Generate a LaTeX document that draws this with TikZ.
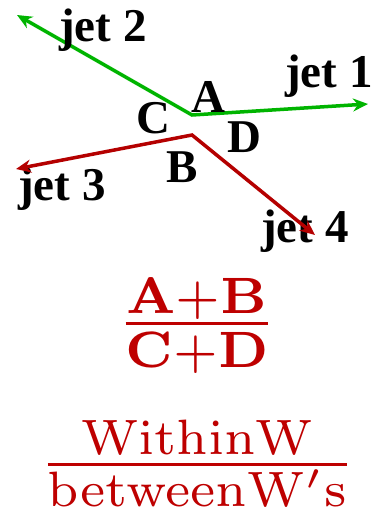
\documentclass[tikz,border=0pt]{standalone}
\usepackage[no-math]{fontspec}
\usepackage{graphicx}
\usetikzlibrary{arrows.meta}
\newfontfamily\jetfont{Liberation Serif}
\definecolor{jetgreen}{HTML}{00B400}
\definecolor{jetred}{HTML}{B40000}
\definecolor{fracred}{HTML}{BE0000}

\begin{document}
\begin{tikzpicture}[x=1pt,y=-1pt,
  jets/.style={line width=3.5pt,line join=miter,
    {Stealth[length=15pt,width=13pt]}-{Stealth[length=15pt,width=13pt]}},
  lbl/.style={anchor=base,inner sep=0pt,font=\jetfont\bfseries\fontsize{47}{50}\selectfont},
  ratio/.style={anchor=base,inner sep=0pt,text=fracred}]
\useasboundingbox (0,0) rectangle (373,511);
% event: two W's, four jets
\coordinate (vg) at (192,115); \coordinate (vr) at (192,135);
\coordinate (t1) at (368,104); \coordinate (t2) at (17,15);
\coordinate (t3) at (16,169);  \coordinate (t4) at (315,235);
\draw[jets,jetgreen] (t2)--(vg)--(t1);
\node[lbl] (j1) at (329,88) {jet 1}; \node[lbl] (j2) at (103,42) {jet 2};
\node[lbl] (j3) at (62,200) {jet 3}; \node[lbl] (j4) at (305,242) {jet 4};
\node[lbl] (a) at (208,112) {A}; \node[lbl] (c) at (153,133) {C};
\node[lbl] (d) at (244,152) {D}; \node[lbl] (b) at (182,182) {B};
\draw[jets,jetred] (t3)--(vr)--(t4);
% ratios
\node[ratio] (jetratio) at (197,342)
  {\scalebox{7.3}{$\frac{\mathbf{A}+\mathbf{B}}{\mathbf{C}+\mathbf{D}}$}};
\node[ratio] (wratio) at (197.5,482)
  {\scalebox{7.1}{$\frac{\mathrm{Within W}}{\mathrm{between W}'\mathrm{s}}$}};
\end{tikzpicture}
\end{document}
